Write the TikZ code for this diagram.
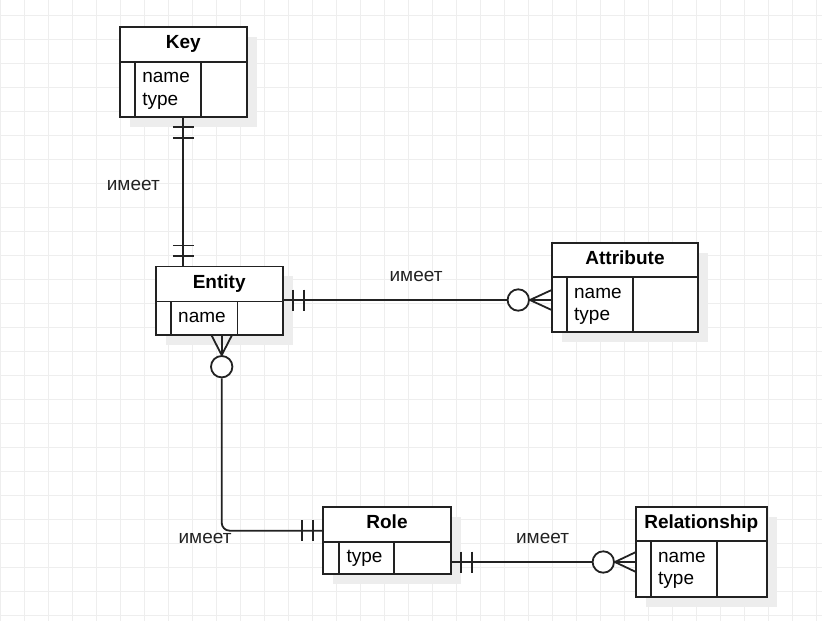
\documentclass[tikz,border=0pt]{standalone}
\usepackage{fontspec}
\setmainfont{Liberation Sans}
\usetikzlibrary{positioning,calc,shadows}
\definecolor{gridgray}{HTML}{EEEEEE}
\definecolor{ink}{HTML}{222222}
\newcommand{\headstrut}{\rule[-4.5pt]{0pt}{13.5pt}}
\newcommand{\fieldstrut}{\rule[-3.7pt]{0pt}{17pt}}
\tikzstyle{gridline} = [draw=gridgray, line width=1pt]
\tikzstyle{rel} = [draw=ink, line width=1.8pt]
\tikzstyle{tablebox} = [draw=ink, line width=1.8pt, rectangle, fill=white, outer sep=0pt, inner sep=0pt,
    general shadow={fill=black!7, shadow xshift=10pt, shadow yshift=-10pt}]
\tikzstyle{head} = [tablebox, minimum height=35pt, font=\fontsize{19}{23}\selectfont\bfseries,
    execute at begin node=\headstrut]
\tikzstyle{body} = [tablebox]
\tikzstyle{fields} = [draw=ink, line width=1.8pt, rectangle, outer sep=0pt, inner xsep=7.5pt, inner ysep=0pt,
    anchor=north west, align=left, text width=51pt, execute at begin node=\fieldstrut]
\tikzstyle{zero} = [draw=ink, line width=1.8pt, circle, fill=white, minimum size=21.4pt, inner sep=0pt]
\tikzstyle{label} = [text=ink, inner sep=0pt]

\begin{document}
\begin{tikzpicture}[x=1pt, y=-1pt, font=\fontsize{19}{22.7}\selectfont]
        \useasboundingbox (0,0) rectangle (822,621);
        \draw[gridline, shift={(0.7,15)}] (-0.7,-15) grid[step=24pt] (821.3,606);
        % tables
        \node[head, minimum width=127pt] (keyhead) at (183.3,44.2) {Key};
        \node[body, minimum width=127pt, minimum height=55pt, below=0pt of keyhead] (keybody) {};
        \node[fields, minimum height=55pt] (keyfields) at ($(keybody.north west)+(15,0)$) {name\\type};
        \node[head, minimum width=127pt] (entityhead) at (219.2,283.9) {Entity};
        \node[body, minimum width=127pt, minimum height=33.3pt, below=0pt of entityhead] (entitybody) {};
        \node[fields, minimum height=33.3pt, text width=51.7pt] (entityfields) at ($(entitybody.north west)+(15,0)$) {name};
        \node[head, minimum width=146.7pt, minimum height=34pt] (attrhead) at (625,260.3) {Attribute};
        \node[body, minimum width=146.7pt, minimum height=55pt, below=0pt of attrhead] (attrbody) {};
        \node[fields, minimum height=55pt] (attrfields) at ($(attrbody.north west)+(15,0)$) {name\\type};
        \node[head, minimum width=127.3pt] (rolehead) at (387,524.2) {Role};
        \node[body, minimum width=127.3pt, minimum height=32.3pt, below=0pt of rolehead] (rolebody) {};
        \node[fields, minimum height=32.3pt, text width=40pt] (rolefields) at ($(rolebody.north west)+(15.7,0)$) {type};
        \node[head, minimum width=130.7pt, minimum height=34.3pt] (relhead) at (701.3,523.8) {Relationship};
        \node[body, minimum width=130.7pt, minimum height=55.7pt, below=0pt of relhead] (relbody) {};
        \node[fields, minimum height=55.7pt] (relfields) at ($(relbody.north west)+(14.7,0)$) {name\\type};
        % optional ends
        \node[zero] (entcirc) at (221.7,366.7) {};
        \node[zero] (attcirc) at (518.3,300) {};
        \node[zero] (relcirc) at (603.3,562) {};
        % Key -- Entity
        \draw[rel] (keybody.south) -- (keybody.south |- entityhead.north);
        \draw[rel] ($(keybody.south)+(-10.5,10.5)$) -- +(21,0);
        \draw[rel] ($(keybody.south)+(-10.5,21)$) -- +(21,0);
        \draw[rel] ($(keybody.south |- entityhead.north)+(-10.5,-10.5)$) -- +(21,0);
        \draw[rel] ($(keybody.south |- entityhead.north)+(-10.5,-21)$) -- +(21,0);
        \node[label] (keylbl) at (133.3,185.5) {имеет};
        % Entity -- Attribute
        \draw[rel] (attcirc.west) -- (attcirc.west -| entityhead.east);
        \draw[rel] ($(attcirc.west -| entityhead.east)+(10.5,-10.5)$) -- +(0,21);
        \draw[rel] ($(attcirc.west -| entityhead.east)+(21,-10.5)$) -- +(0,21);
        \draw[rel] (attcirc.east) -- (attcirc.east -| attrbody.west);
        \draw[rel] (attcirc.east) -- ($(attcirc.east -| attrbody.west)+(0,-10)$);
        \draw[rel] (attcirc.east) -- ($(attcirc.east -| attrbody.west)+(0,10)$);
        \node[label] (attrlbl) at (416,276.5) {имеет};
        % Entity -- Role
        \draw[rel] (entcirc.north) -- (entcirc.north |- entitybody.south);
        \draw[rel] (entcirc.north) -- ($(entcirc.north |- entitybody.south)+(-10.5,0)$);
        \draw[rel] (entcirc.north) -- ($(entcirc.north |- entitybody.south)+(10.5,0)$);
        \draw[rel, rounded corners=8pt] (entcirc.south) |- ($(rolehead.west)+(0,6.5)$);
        \draw[rel] ($(rolehead.west)+(-10.5,-4)$) -- +(0,21);
        \draw[rel] ($(rolehead.west)+(-21,-4)$) -- +(0,21);
        \node[label] (rolelbl) at (205,538) {имеет};
        % Role -- Relationship
        \draw[rel] (relcirc.west) -- (relcirc.west -| rolebody.east);
        \draw[rel] ($(relcirc.west -| rolebody.east)+(10.5,-10.5)$) -- +(0,21);
        \draw[rel] ($(relcirc.west -| rolebody.east)+(21,-10.5)$) -- +(0,21);
        \draw[rel] (relcirc.east) -- (relcirc.east -| relbody.west);
        \draw[rel] (relcirc.east) -- ($(relcirc.east -| relbody.west)+(0,-10)$);
        \draw[rel] (relcirc.east) -- ($(relcirc.east -| relbody.west)+(0,10)$);
        \node[label] (rellbl) at (542.5,538) {имеет};
    \end{tikzpicture}
\end{document}
